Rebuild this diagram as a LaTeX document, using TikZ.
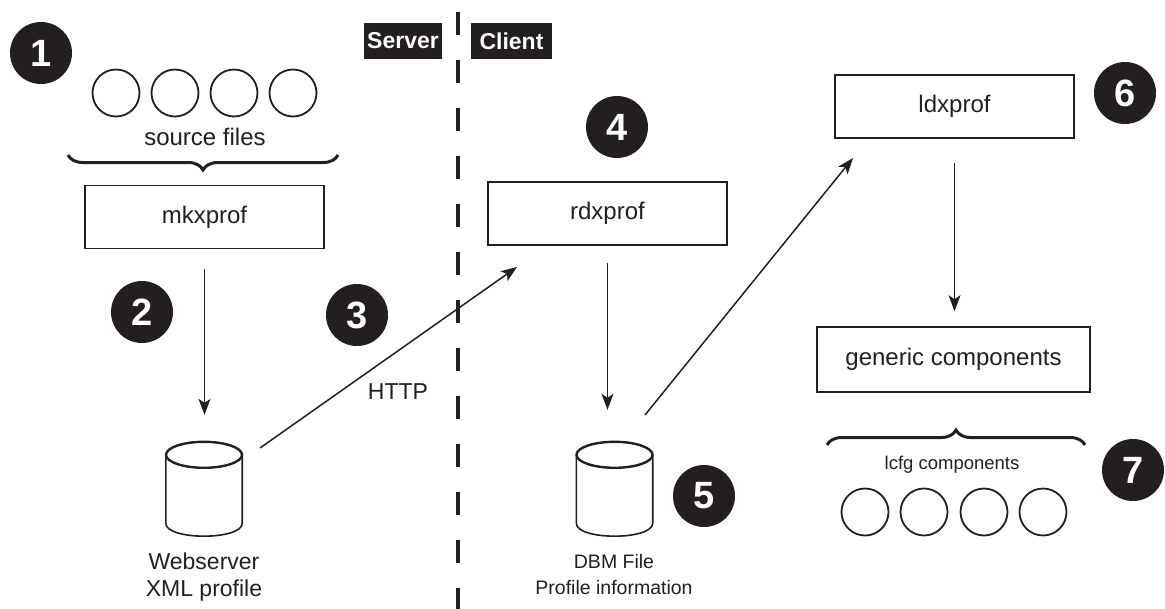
\documentclass[tikz,border=0pt]{standalone}
\usepackage{fontspec}
\setmainfont{Liberation Sans}
\usetikzlibrary{arrows.meta,decorations.pathreplacing,calc}
\definecolor{ink}{HTML}{231F20}

\begin{document}
\begin{tikzpicture}[x=1pt,y=-1pt, every node/.style={text=ink},
  box/.style={draw=ink, line width=1.6pt, minimum width=239pt, minimum height=63pt,
    inner sep=0pt, font=\fontsize{24}{28}\selectfont},
  numdot/.style={circle, fill=ink, minimum size=62pt, inner sep=0pt,
    text=white, font=\fontsize{38}{40}\selectfont\bfseries},
  file/.style={circle, draw=ink, line width=1.8pt, minimum size=47pt, inner sep=0pt},
  lbl/.style={font=\fontsize{23}{27}\selectfont, align=center},
  small/.style={font=\fontsize{19.5}{26}\selectfont, align=center},
  tag/.style={fill=ink, text=white, minimum height=36pt, inner sep=0pt,
    font=\fontsize{23}{26}\selectfont\bfseries},
  arr/.style={draw=ink, -{Stealth[length=16pt,width=12pt,inset=4pt]}, line width=1.5pt},
  brc/.style={draw=ink, decorate, decoration={brace, amplitude=15pt}, line width=3pt},
  cylbody/.style={draw=ink, line width=1.6pt},
  cyltop/.style={draw=ink, line width=2.4pt},
  cylzone/.style={minimum width=76pt, minimum height=94pt, inner sep=0pt},
]
\useasboundingbox (0,0) rectangle (1165,608);

% server / client divider and its tags
\coordinate (divtop) at (458,12);
\coordinate (divbot) at (458,612);
\draw[ink, line width=4pt, dash pattern=on 23pt off 25pt] (divtop) -- (divbot);
\node[tag, minimum width=78pt] (srv) at (403,41) {Server};
\node[tag, minimum width=81pt] (cli) at (511.5,41) {Client};

% step numbers
\node[numdot] (n1) at (41,53) {1};
\node[numdot] (n2) at (142,312) {2};
\node[numdot] (n3) at (357,315) {3};
\node[numdot] (n4) at (617,127) {4};
\node[numdot] (n5) at (704,496) {5};
\node[numdot] (n6) at (1125,93) {6};
\node[numdot] (n7) at (1133,470) {7};

% source files feeding mkxprof
\foreach \i/\x in {1/116,2/175,3/234,4/293}
  \node[file] (src\i) at (\x,93) {};
\node[lbl, font=\fontsize{24}{28}\selectfont] (srclbl) at (205,137) {source files};
\coordinate (srcbr0) at (338,155);
\coordinate (srcbr1) at (68,155);
\draw[brc] (srcbr0) -- (srcbr1);

% processing boxes
\node[box] (mkx) at (204.5,217) {mkxprof};
\node[box] (rdx) at (607.5,213.5) {rdxprof};
\node[box] (ldx) at (954.5,106.5) {ldxprof};
\node[box, minimum width=273pt, minimum height=65pt] (gen) at (953.5,359.5) {generic components};

% profile stores (cylinders)
\foreach \c/\cx in {web/204,dbm/614.5}{
  \node[cylzone] (\c) at (\cx,489) {};
  \draw[cyltop] ($(\c.north)+(0,13)$) ellipse [x radius=38, y radius=13];
  \draw[cylbody] ($(\c.north west)+(0,13)$) -- ($(\c.south west)+(0,-13)$)
    .. controls ($(\c.south west)+(0,4.3)$) and ($(\c.south east)+(0,4.3)$)
    .. ($(\c.south east)+(0,-13)$) -- ($(\c.north east)+(0,13)$);
}
\node[lbl] (weblbl) at (204,577) {Webserver\\XML profile};
\node[small] (dbmlbl) at (614,575) {DBM File\\Profile information};

% lcfg components
\coordinate (lcbr0) at (827,445);
\coordinate (lcbr1) at (1085,445);
\draw[brc] (lcbr0) -- (lcbr1);
\node[small, font=\fontsize{18.5}{24}\selectfont] (lclbl) at (952,465) {lcfg components};
\foreach \i/\x in {1/865,2/924,3/984,4/1043}
  \node[file] (comp\i) at (\x,512) {};

% data flow
\draw[arr, shorten <=20pt, shorten >=27pt] (mkx.south) -- (mkx.south |- web.north);
\coordinate (http0) at (260,448);
\coordinate (http1) at (517,267);
\draw[arr] (http0) -- (http1);
\node[lbl] (http) at (398,392) {HTTP};
\draw[arr, shorten <=17pt, shorten >=32pt] (rdx.south) -- (rdx.south |- dbm.north);
\coordinate (dbm0) at (645,415);
\coordinate (dbm1) at (853,158);
\draw[arr] (dbm0) -- (dbm1);
\draw[arr, shorten <=24pt, shorten >=15pt] (ldx.south) -- (ldx.south |- gen.north);
\end{tikzpicture}
\end{document}
